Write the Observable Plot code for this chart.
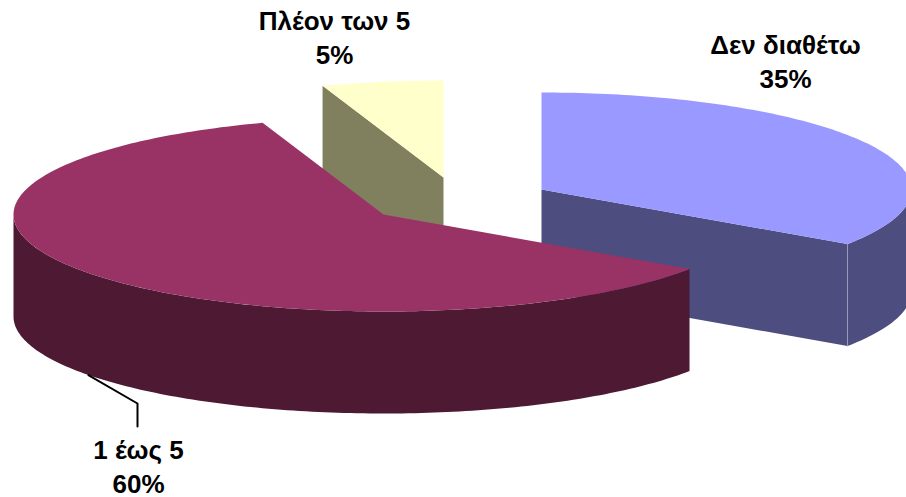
<!DOCTYPE html>
<html>
<head>
<meta charset="utf-8">
<script src="https://cdn.jsdelivr.net/npm/d3@7"></script>
<script src="https://cdn.jsdelivr.net/npm/@observablehq/plot@0.6"></script>
<style>html,body{margin:0;padding:0;background:#fff}svg{display:block}</style>
</head>
<body>
<div id="chart"></div>
<script>
const categories = ["Δεν διαθέτω", "1 έως 5", "Πλέον των 5"];
const shares = [34.5, 60.2, 5.3];
const shareLabels = ["35%", "60%", "5%"];
const topColors = ["#9999ff", "#993366", "#ffffcc"];
const wallColors = ["#4d4d80", "#4d1933", "#80805f"];
const apexX = [541, 383, 443];
const apexY = [189, 214, 177];
const labelX = [785, 138, 334];
const labelY = [60, 465, 36];
const radiusX = 370, radiusY = 97, depth = 102;

// Slice angles accumulate clockwise from 12 o'clock.
let cumulative = 0;
const slices = categories.map((name, i) => {
  const a0 = cumulative * 3.6;
  cumulative += shares[i];
  return {name, a0, a1: cumulative * 3.6, cx: apexX[i], cy: apexY[i], top: topColors[i], wall: wallColors[i]};
});
const rim = (s, deg, dy = 0) => {
  const t = deg * Math.PI / 180;
  return {x: s.cx + radiusX * Math.sin(t), y: s.cy - radiusY * Math.cos(t) + dy};
};
const arc = (s, from, to, dy = 0) => {
  const n = Math.max(2, Math.ceil(Math.abs(to - from)));
  return d3.range(n + 1).map(k => rim(s, from + (to - from) * k / n, dy));
};
const topFace = s => [{x: s.cx, y: s.cy}, ...arc(s, s.a0, s.a1)];
const cutFace = (s, deg) => [
  rim(s, deg), {x: s.cx, y: s.cy}, {x: s.cx, y: s.cy + depth}, rim(s, deg, depth)
];
const outerWall = (s, from, to) => [...arc(s, from, to), ...arc(s, to, from, depth)];

const [blue, maroon, yellow] = slices;
const face = (pts, fill) => Plot.line(pts, {x: "x", y: "y", fill, stroke: "none"});

const edge = [rim(blue, blue.a1), rim(blue, blue.a1, depth)];
const leader = [
  rim(maroon, 232.9, depth),
  {x: 137, y: 403},
  {x: 137, y: 426}
];

const plot = Plot.plot({
  width: 906, height: 497,
  margin: 0,
  x: {domain: [0, 906], range: [0, 906], axis: null},
  y: {domain: [0, 497], range: [0, 497], axis: null},
  marks: [
    face(cutFace(yellow, yellow.a0), yellow.wall),
    face(topFace(yellow), yellow.top),
    face(cutFace(blue, blue.a1), blue.wall),
    face(outerWall(blue, 90, blue.a1), blue.wall),
    Plot.line(edge, {x: "x", y: "y", stroke: "#9a9ab8", strokeWidth: 1}),
    face(topFace(blue), blue.top),
    face(outerWall(maroon, maroon.a0, 270), maroon.wall),
    face(topFace(maroon), maroon.top),
    Plot.line(leader, {x: "x", y: "y", stroke: "#000", strokeWidth: 2}),
    Plot.text(categories.map((c, i) => `${c}\n${shareLabels[i]}`), {
      x: labelX, y: labelY,
      text: d => d,
      textAnchor: "middle",
      lineHeight: 1.3,
      fontFamily: "Liberation Sans, Arial, sans-serif",
      fontWeight: "bold",
      fontSize: 26,
      fill: "#000"
    })
  ]
});
document.getElementById("chart").append(plot);
</script>
</body>
</html>
